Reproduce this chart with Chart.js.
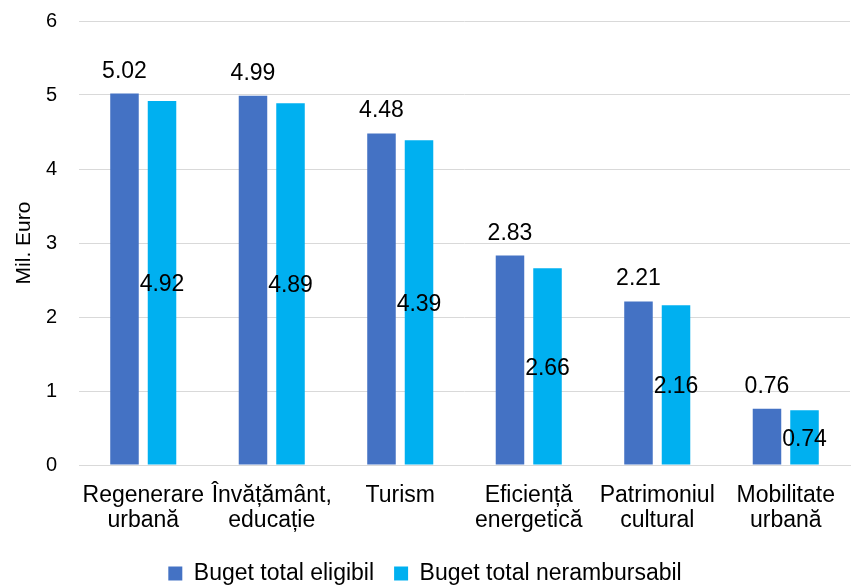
<!DOCTYPE html>
<html lang="ro">
<head>
    <meta charset="UTF-8">
    <title>Buget pe domenii</title>
    <script src="https://cdn.jsdelivr.net/npm/chart.js"></script>
    <style>
        html, body { margin: 0; padding: 0; background: #fff; }
        #wrap { width: 851px; height: 586px; }
    </style>
</head>
<body>
    <div id="wrap"><canvas id="bugetChart"></canvas></div>
    <script>
        // Data
        const categories = [
            ['Regenerare', 'urbană'],
            ['Învățământ,', 'educație'],
            ['Turism'],
            ['Eficiență', 'energetică'],
            ['Patrimoniul', 'cultural'],
            ['Mobilitate', 'urbană']
        ];
        const bugetEligibil = [5.02, 4.99, 4.48, 2.83, 2.21, 0.76];
        const bugetNerambursabil = [4.92, 4.89, 4.39, 2.66, 2.16, 0.74];
        const seriesNames = ['Buget total eligibil', 'Buget total nerambursabil'];
        const yTicks = [0, 1, 2, 3, 4, 5, 6];

        const FONT = "'Liberation Sans', Arial, sans-serif";

        // Value labels: first series above the bar, second series in the middle of the bar
        const valueLabels = {
            id: 'valueLabels',
            afterDatasetsDraw(chart) {
                const ctx = chart.ctx;
                ctx.save();
                ctx.font = '23px ' + FONT;
                ctx.fillStyle = '#000';
                ctx.textAlign = 'center';
                chart.data.datasets.forEach((ds, i) => {
                    chart.getDatasetMeta(i).data.forEach((bar, j) => {
                        const txt = ds.data[j].toFixed(2);
                        if (i === 0) {
                            ctx.textBaseline = 'alphabetic';
                            ctx.fillText(txt, bar.x, bar.y - 16);
                        } else {
                            ctx.textBaseline = 'middle';
                            ctx.fillText(txt, bar.x, (bar.y + bar.base) / 2 + 2);
                        }
                    });
                });
                ctx.restore();
            }
        };

        const ctx = document.getElementById('bugetChart').getContext('2d');
        new Chart(ctx, {
            type: 'bar',
            data: {
                labels: categories,
                datasets: [
                    {
                        label: seriesNames[0],
                        data: bugetEligibil,
                        backgroundColor: '#4472C4',
                        categoryPercentage: 0.584,
                        barPercentage: 0.76
                    },
                    {
                        label: seriesNames[1],
                        data: bugetNerambursabil,
                        backgroundColor: '#00B0F0',
                        categoryPercentage: 0.584,
                        barPercentage: 0.76
                    }
                ]
            },
            options: {
                responsive: true,
                maintainAspectRatio: false,
                animation: false,
                layout: { padding: { top: 21, right: 1, left: 0, bottom: -9 } },
                plugins: {
                    tooltip: { enabled: false },
                    legend: {
                        position: 'bottom',
                        labels: {
                            color: '#000',
                            font: { family: FONT, size: 23 },
                            boxWidth: 14,
                            boxHeight: 14,
                            padding: 20
                        }
                    }
                },
                scales: {
                    x: {
                        grid: { display: false },
                        border: { color: '#d9d9d9', width: 1 },
                        afterFit(scale) {
                            scale.height = 77;
                            scale.paddingLeft = 0;
                            scale.paddingRight = 0;
                        },
                        ticks: {
                            color: '#000',
                            font: { family: FONT, size: 23, lineHeight: 1.1 },
                            padding: 10,
                            maxRotation: 0,
                            autoSkip: false
                        }
                    },
                    y: {
                        min: 0,
                        max: 6,
                        afterBuildTicks(scale) {
                            scale.ticks = yTicks.map(v => ({ value: v }));
                        },
                        afterFit(scale) {
                            scale.width = 79;
                            scale.paddingTop = 0;
                            scale.paddingBottom = 0;
                        },
                        grid: { color: '#d9d9d9', lineWidth: 1, drawTicks: false },
                        border: { display: false },
                        ticks: {
                            color: '#000',
                            font: { family: FONT, size: 20 },
                            padding: 22
                        },
                        title: {
                            display: true,
                            text: 'Mil. Euro',
                            color: '#000',
                            font: { family: FONT, size: 21 },
                            padding: { top: 12, bottom: 0 }
                        }
                    }
                }
            },
            plugins: [valueLabels]
        });
    </script>
</body>
</html>
